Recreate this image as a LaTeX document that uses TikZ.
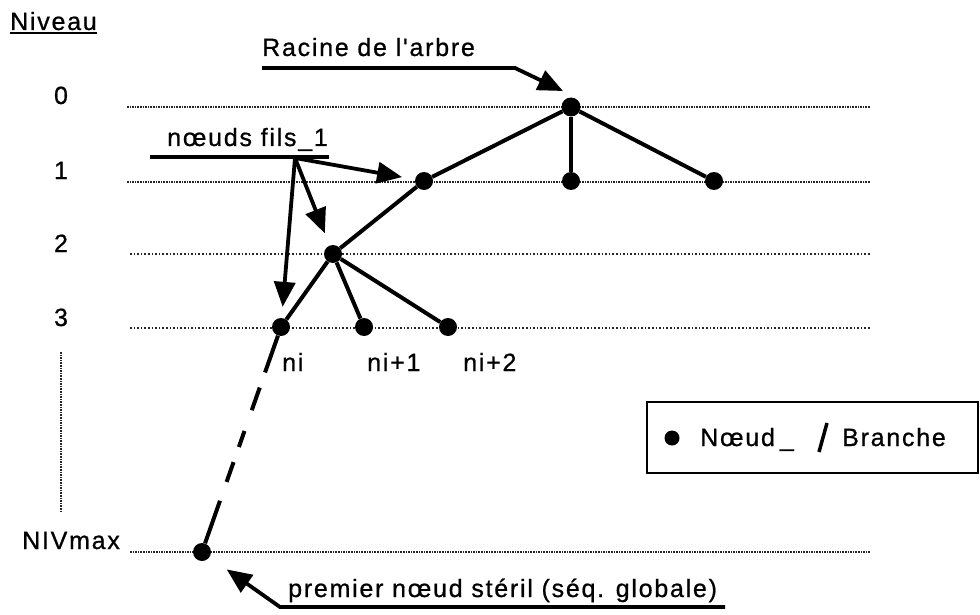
\documentclass[tikz,border=0pt]{standalone}
\usepackage{fontspec}
\usetikzlibrary{arrows.meta}
\newfontfamily\helv[LetterSpace=7,Ligatures=TeXOff,FakeBold=0.8]{Liberation Sans}

\tikzset{
  noeud/.style={circle, fill, inner sep=0pt, minimum size=18pt},
  branche/.style={line width=4pt},
  fleche/.style={line width=3.8pt, -{Triangle[length=25pt,width=21pt]}},
  niveau/.style={black!85, line width=1.6pt, densely dotted},
  texte/.style={inner sep=0pt, anchor=base west, font=\helv\fontsize{25}{30}\selectfont}
}

\begin{document}
\begin{tikzpicture}[x=1pt, y=-1pt]
  \useasboundingbox (0,0) rectangle (980,615);

  % niveaux
  \node[texte] (niveau) at (10,30) {Niveau};
  \draw[line width=2pt] ([yshift=-3pt]niveau.base west) -- ([yshift=-3pt]niveau.base east);
  \foreach \n/\y in {0/107,1/182}{
    \node[texte, anchor=base] (lab\n) at (61,{\y-3}) {\n};
    \draw[niveau] (127,\y) -- (870,\y);
  }
  \foreach \n/\y in {2/254,3/328}{
    \node[texte, anchor=base] (lab\n) at (61,{\y-2}) {\n};
    \draw[niveau, dotted] (130,\y) -- (870,\y);
  }
  \draw[niveau] (61,352) -- (61,511);
  \node[texte] (nivmax) at (22,549) {NIVmax};
  \draw[niveau] (130,552) -- (870,552);

  % arbre
  \node[noeud, minimum size=19pt] (racine) at (571,107) {};
  \node[noeud] (na) at (424,181) {};
  \node[noeud] (nb) at (571,181) {};
  \node[noeud] (nc) at (714,181) {};
  \node[noeud] (nd) at (333,254) {};
  \node[noeud] (ni) at (281,327) {};
  \node[noeud] (nia) at (364,327) {};
  \node[noeud] (nib) at (448,327) {};
  \node[noeud] (nmax) at (202,552) {};

  \draw[branche] (racine) -- (na);
  \draw[branche] (racine) -- (nb);
  \draw[branche] (racine) -- (nc);
  \draw[branche] (na) -- (nd);
  \draw[branche] (nd) -- (ni);
  \draw[branche] (nd) -- (nia);
  \draw[branche] (nd) -- (nib);
  \draw[branche, dash pattern=on 39pt off 16pt on 24pt off 22pt on 17pt off 16pt on 21pt off 20pt on 60pt] (ni) -- (nmax);

  \node[texte] (ti) at (282,371) {ni};
  \node[texte] (tia) at (367,371) {ni+1};
  \node[texte] (tib) at (463,371) {ni+2};

  % fleches
  \node[texte] (racinetxt) at (262,56) {Racine de l'arbre};
  \coordinate (pointe) at (563,91);
  \draw[fleche] (262,68) -- (515,68) -- (pointe);

  \node[texte] (filstxt) at (167,146) {nœuds fils\_1};
  \draw[branche] (150,157) -- (329,157);
  \coordinate (fourche) at (295,158);
  \draw[fleche, shorten >=13pt] (fourche) -- (na);
  \draw[fleche, shorten >=13pt] (fourche) -- (nd);
  \draw[fleche, shorten >=11pt] (fourche) -- (ni);

  \node[texte] (premtxt) at (288,597) {premier nœud stéril (séq. globale)};
  \draw[fleche, shorten >=21pt] (725,607) -- (280,607) -- (nmax);

  % legende
  \draw[line width=2.5pt] (647,402) rectangle (978,473);
  \node[noeud, minimum size=15pt] (legnoeud) at (672,438) {};
  \node[texte] (legtxt) at (700,446) {Nœud\hspace{5pt}\_};
  \draw[line width=3.5pt] (819,452) -- (827,423);
  \node[texte] (legbr) at (842,446) {Branche};
\end{tikzpicture}
\end{document}
